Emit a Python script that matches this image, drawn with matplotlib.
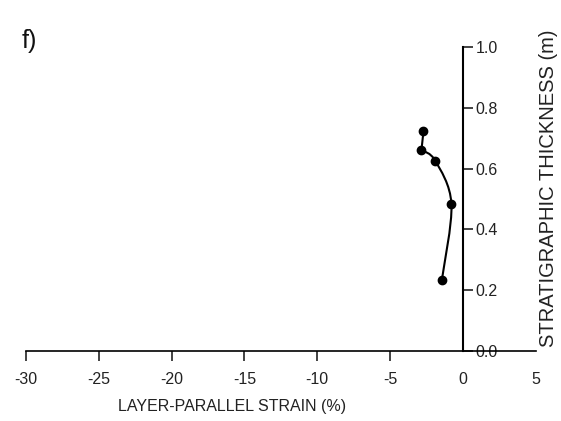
import numpy as np
import matplotlib.pyplot as plt
from matplotlib.path import Path
from matplotlib.patches import PathPatch

plt.rcParams['font.family'] = ['Liberation Sans', 'DejaVu Sans']

# layer-parallel strain (%) vs stratigraphic thickness (m)
strain = [-2.70, -2.84, -1.88, -0.78, -1.44]
thickness = [0.723, 0.661, 0.625, 0.483, 0.233]

xticks = [-30, -25, -20, -15, -10, -5, 0, 5]
yticks = [0.0, 0.2, 0.4, 0.6, 0.8, 1.0]


def smooth_path(xs, ys):
    # catmull-rom through the points, written as cubic bezier segments
    pts = np.column_stack([xs, ys])
    verts = [pts[0]]
    codes = [Path.MOVETO]
    n = len(pts)
    for i in range(n - 1):
        p0 = pts[i - 1] if i > 0 else pts[i]
        p1, p2 = pts[i], pts[i + 1]
        p3 = pts[i + 2] if i + 2 < n else pts[i + 1]
        c1 = p1 + (p2 - p0) / 6
        c2 = p2 - (p3 - p1) / 6
        verts += [c1, c2, p2]
        codes += [Path.CURVE4] * 3
    return Path(verts, codes)


fig = plt.figure(figsize=(5.61, 4.21), dpi=100)
ax = fig.add_axes([26 / 561, 70 / 421, 509.6 / 561, 304 / 421])

# top segment is a straight link, rest is a smooth curve
ax.plot(strain[:2], thickness[:2], color='black', lw=1.5)
ax.add_patch(PathPatch(smooth_path(strain[1:], thickness[1:]),
                       facecolor='none', edgecolor='black', lw=1.5))
ax.plot(strain, thickness, 'o', color='black', ms=6)

ax.set_xlim(-30, 5)
ax.set_ylim(0, 1.0)

ax.spines['top'].set_visible(False)
ax.spines['left'].set_visible(False)
ax.spines['right'].set_position(('data', 0))
ax.spines['bottom'].set_position(('data', 0))
ax.spines['right'].set_linewidth(1.5)
ax.spines['bottom'].set_linewidth(1.2)

ax.yaxis.tick_right()
ax.set_yticks(yticks)
ax.set_yticklabels([f'{t:.1f}' for t in yticks])
ax.tick_params(axis='y', direction='out', length=7, width=1.2, pad=2,
               labelsize=11.5, colors='#222222')
for lbl in ax.get_yticklabels():
    lbl.set_bbox(dict(facecolor='white', edgecolor='none', pad=0.5))

ax.set_xticks(xticks)
ax.set_xticklabels([str(t) for t in xticks])
ax.tick_params(axis='x', direction='out', length=7, width=1.2, pad=8,
               labelsize=11.5, colors='#222222')
ax.xaxis.get_major_ticks()[-1].tick1line.set_visible(False)
ax.xaxis.get_major_ticks()[-2].tick1line.set_visible(False)

fig.text(232 / 561, 1 - 406 / 421, 'LAYER-PARALLEL STRAIN (%)', ha='center',
         va='center', fontsize=11.5, color='#222222')
fig.text(548 / 561, 1 - 188 / 421, 'STRATIGRAPHIC THICKNESS (m)', ha='center',
         va='center', rotation=90, fontsize=14.5, color='#222222')
fig.text(22 / 561, 1 - 41 / 421, 'f)', ha='left', va='center', fontsize=18,
         color='#111111')

fig.savefig('out.png', dpi=100)
